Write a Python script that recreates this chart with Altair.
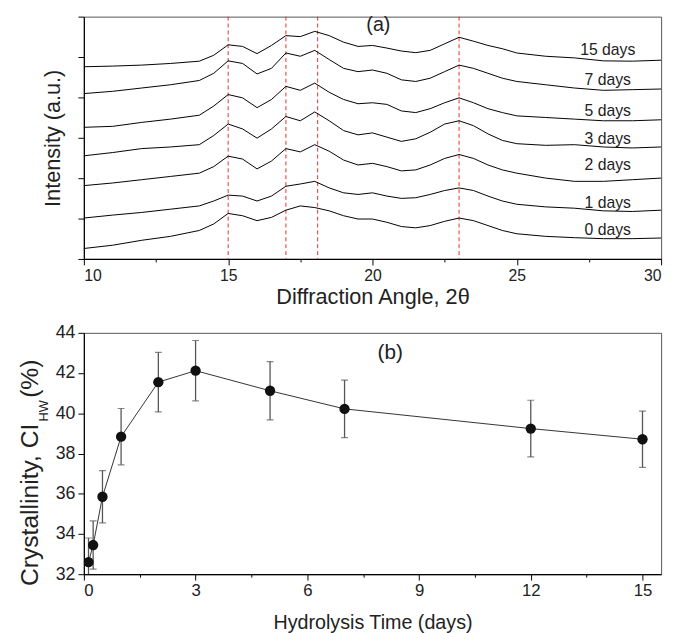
import altair as alt
import pandas as pd

FONT = "Liberation Sans"

# ---------------- panel (a): XRD patterns ----------------
two_theta = [10, 11, 12, 13, 14, 14.5, 15, 15.5, 16, 16.5, 17, 17.5, 18, 18.5,
             19, 19.5, 20, 20.5, 21, 21.5, 22, 22.5, 23, 23.5, 24, 24.5, 25,
             26, 27, 28, 29, 30]

int_0d = [32, 42, 57, 69, 87, 107, 139, 132, 117, 127, 149, 162, 157, 147, 132, 122,
          122, 112, 99, 95, 102, 115, 125, 117, 102, 87, 77, 69, 65, 62, 62, 64]
int_1d = [125, 134, 142, 152, 162, 177, 195, 192, 177, 192, 222, 229, 237, 217, 202, 197,
          202, 192, 185, 187, 197, 209, 217, 209, 192, 177, 167, 159, 155, 147, 145, 149]
int_2d = [224, 232, 242, 252, 262, 282, 314, 305, 275, 299, 337, 327, 349, 329, 302, 287,
          292, 282, 269, 272, 287, 307, 319, 307, 287, 272, 262, 247, 237, 237, 242, 247]
int_3d = [315, 325, 337, 342, 349, 377, 412, 397, 369, 397, 435, 422, 449, 422, 392, 379,
          385, 372, 359, 367, 387, 412, 422, 407, 382, 362, 352, 347, 349, 342, 339, 342]
int_5d = [402, 405, 417, 427, 439, 467, 502, 492, 462, 487, 527, 515, 537, 509, 487, 474,
          477, 472, 452, 447, 459, 477, 492, 477, 459, 447, 437, 432, 427, 422, 422, 425]
int_7d = [505, 512, 522, 532, 545, 567, 605, 597, 565, 582, 629, 619, 637, 609, 582, 572,
          577, 567, 547, 542, 552, 572, 592, 582, 567, 552, 542, 532, 522, 515, 517, 519]
int_15d = [587, 589, 592, 597, 604, 622, 654, 649, 627, 652, 682, 679, 695, 682, 662, 649,
           652, 644, 635, 630, 637, 657, 677, 665, 652, 642, 629, 619, 614, 605, 604, 607]

sample_names = ["0 days", "1 days", "2 days", "3 days", "5 days", "7 days", "15 days"]
sample_curves = [int_0d, int_1d, int_2d, int_3d, int_5d, int_7d, int_15d]
label_x = [28.15] * 7
label_y = [87, 170, 287, 367, 452, 547, 639]

ref_angles = [15.0, 17.0, 18.1, 23.0]

# ---------------- panel (b): crystallinity ----------------
time_days = [0.125, 0.25, 0.5, 1, 2, 3, 5, 7, 12, 15]
ci_values = [32.6, 33.45, 35.85, 38.84, 41.55, 42.12, 41.12, 40.22, 39.24, 38.71]
ci_errors = [1.2, 1.2, 1.3, 1.4, 1.48, 1.5, 1.45, 1.43, 1.41, 1.4]

# ---------------- tables ----------------
rows = []
for name, vals in zip(sample_names, sample_curves):
    for a, v in zip(two_theta, vals):
        rows.append({"sample": name, "two_theta": a, "intensity": v})
xrd_df = pd.DataFrame(rows)
lab_df = pd.DataFrame({"name": sample_names, "x": label_x, "y": label_y})
ref_df = pd.DataFrame({"pos": ref_angles})

ci_df = pd.DataFrame({
    "t": time_days,
    "ci": ci_values,
    "lo": [v - e for v, e in zip(ci_values, ci_errors)],
    "hi": [v + e for v, e in zip(ci_values, ci_errors)],
})

# ---------------- panel (a) ----------------
YMAX = 740
ystep = YMAX / 12
xa = alt.X(
    "two_theta:Q",
    scale=alt.Scale(domain=[10, 30], nice=False, zero=False),
    axis=alt.Axis(
        values=[10, 12.5, 15, 17.5, 20, 22.5, 25, 27.5, 30],
        labelExpr="datum.value % 5 === 0 ? datum.label : ''",
        tickSize={"condition": {"test": "datum.value % 5 === 0", "value": 6}, "value": 3},
        title="Diffraction Angle, 2θ",
        labelFontSize=16, titleFontSize=22, labelPadding=3, titlePadding=3,
    ),
)
ya = alt.Y(
    "intensity:Q",
    scale=alt.Scale(domain=[0, YMAX], nice=False, zero=False),
    axis=alt.Axis(
        values=[i * ystep for i in range(13)],
        labels=False,
        tickSize={"condition": {"test": f"round(datum.value / {ystep}) % 2 === 0", "value": 6}, "value": 3},
        title="Intensity (a.u.)",
        titleFontSize=22, titlePadding=13,
    ),
)

rules = alt.Chart(ref_df).mark_rule(color="#e8302a", strokeDash=[4, 3], strokeWidth=1).encode(
    x=alt.X("pos:Q", scale=alt.Scale(domain=[10, 30], nice=False))
)
lines = alt.Chart(xrd_df).mark_line(color="black", strokeWidth=1).encode(
    x=xa, y=ya, detail="sample:N"
)
labels = alt.Chart(lab_df).mark_text(font=FONT, fontSize=16, color="#222", align="center").encode(
    x="x:Q", y="y:Q", text="name:N"
)
tag_a = alt.Chart(pd.DataFrame({"t": ["(a)"]})).mark_text(
    font=FONT, fontSize=20, color="#222", align="center", baseline="middle"
).encode(text="t:N", x=alt.value(299), y=alt.value(9))

panel_a = alt.layer(rules, lines, labels, tag_a).properties(width=586, height=246)

# ---------------- panel (b) ----------------
xb = alt.X(
    "t:Q",
    scale=alt.Scale(domain=[0, 15.5], nice=False, zero=False),
    axis=alt.Axis(
        values=[0, 1.5, 3, 4.5, 6, 7.5, 9, 10.5, 12, 13.5, 15],
        labelExpr="datum.value % 3 === 0 ? datum.label : ''",
        tickSize={"condition": {"test": "datum.value % 3 === 0", "value": 6}, "value": 3},
        title="Hydrolysis Time (days)",
        labelFontSize=17, titleFontSize=20, labelPadding=3, titlePadding=14,
    ),
)
yb_scale = alt.Scale(domain=[32, 44], nice=False, zero=False)
yb = alt.Y(
    "ci:Q",
    scale=yb_scale,
    axis=alt.Axis(
        values=list(range(32, 45)),
        labelExpr="datum.value % 2 === 0 ? datum.label : ''",
        tickSize={"condition": {"test": "datum.value % 2 === 0", "value": 6}, "value": 3},
        title=None,
        labelFontSize=18, labelPadding=3,
    ),
)

b_base = alt.Chart(ci_df)
b_line = b_base.mark_line(color="#333", strokeWidth=1, clip=True).encode(x=xb, y=yb)
b_err = b_base.mark_rule(color="#555", strokeWidth=1.3, clip=True).encode(
    x="t:Q", y=alt.Y("lo:Q", scale=yb_scale), y2="hi:Q"
)
b_cap_hi = b_base.mark_tick(color="#555", orient="horizontal", size=7, thickness=1.2, clip=True).encode(
    x="t:Q", y=alt.Y("hi:Q", scale=yb_scale)
)
b_cap_lo = b_base.mark_tick(color="#555", orient="horizontal", size=7, thickness=1.2, clip=True).encode(
    x="t:Q", y=alt.Y("lo:Q", scale=yb_scale)
)
b_pts = b_base.mark_circle(color="#111", size=110, opacity=1, clip=True).encode(x="t:Q", y="ci:Q")

tag_b = alt.Chart(pd.DataFrame({"t": ["(b)"]})).mark_text(
    font=FONT, fontSize=21, color="#222", align="center", baseline="middle"
).encode(text="t:N", x=alt.value(311), y=alt.value(21))

ttl_main = alt.Chart(pd.DataFrame({"t": ["Crystallinity, CI"]})).mark_text(
    font=FONT, fontSize=25, color="#222", angle=270, align="left", baseline="middle"
).encode(text="t:N", x=alt.value(-55), y=alt.value(257))
ttl_sub = alt.Chart(pd.DataFrame({"t": ["HW"]})).mark_text(
    font=FONT, fontSize=13, color="#222", angle=270, align="left", baseline="middle"
).encode(text="t:N", x=alt.value(-40), y=alt.value(90))
ttl_end = alt.Chart(pd.DataFrame({"t": [" (%)"]})).mark_text(
    font=FONT, fontSize=25, color="#222", angle=270, align="left", baseline="middle"
).encode(text="t:N", x=alt.value(-55), y=alt.value(66))

panel_b = alt.layer(b_line, b_err, b_cap_hi, b_cap_lo, b_pts, tag_b, ttl_main, ttl_sub, ttl_end).properties(
    width=586, height=245
)

chart = alt.vconcat(panel_a, panel_b, spacing=15).properties(
    padding={"left": 9, "top": 2, "right": 5, "bottom": 0}
).configure(
    font=FONT,
).configure_view(
    stroke="#555", strokeWidth=1,
).configure_axis(
    domainColor="black", tickColor="black", labelColor="#222", titleColor="#222",
    labelFont=FONT, titleFont=FONT, titleFontWeight="normal", grid=False, domainWidth=1.2,
)

chart.save("out.html", embed_options={"renderer": "svg", "actions": False})
